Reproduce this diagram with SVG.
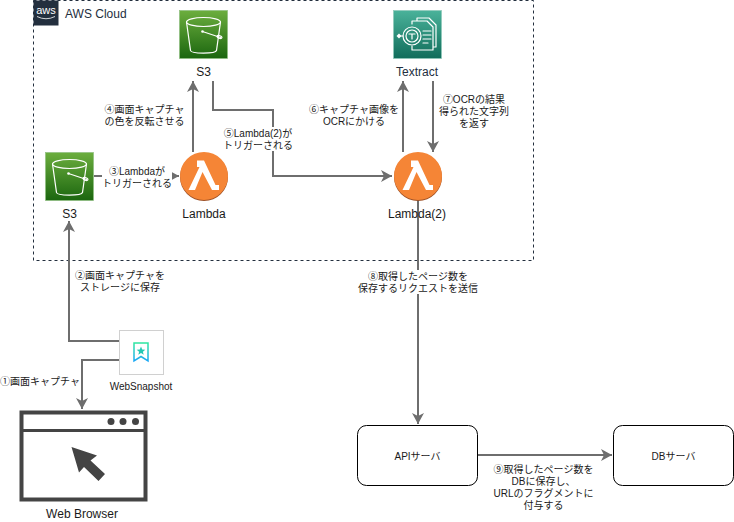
<svg xmlns="http://www.w3.org/2000/svg" width="734" height="522" viewBox="0 0 734 522">
<style>
text{font-family:"Liberation Sans","Noto Sans CJK JP",sans-serif;fill:#1a1a1a}
.e{font-size:10px;text-anchor:middle}
.n{font-size:12px;text-anchor:middle}
.c{fill:none;stroke:#6e6e6e;stroke-width:2}
.g{fill:none;stroke:#fff;stroke-width:1.2;stroke-linejoin:round;stroke-linecap:round}
.bg{fill:#fff}
</style>
<defs>
<marker id="a" markerUnits="userSpaceOnUse" markerWidth="14" markerHeight="14" refX="11" refY="6" orient="auto"><path d="M0 0L11 6L0 12L3 6Z" fill="#6e6e6e"/></marker>
<linearGradient id="gs" x1="0" y1="1" x2="0" y2="0"><stop offset="0" stop-color="#1b660f"/><stop offset="1" stop-color="#6cae3e"/></linearGradient>
<linearGradient id="gt" x1="0" y1="1" x2="0" y2="0"><stop offset="0" stop-color="#116d5b"/><stop offset="1" stop-color="#4ab29a"/></linearGradient>
<linearGradient id="gb" x1="0" y1="0" x2="0" y2="1"><stop offset="0" stop-color="#2fe6a0"/><stop offset="1" stop-color="#1aa7f5"/></linearGradient>
<g id="s3i">
<rect width="48" height="48" fill="url(#gs)" stroke="#8fbf80" stroke-width="0.7"/>
<ellipse cx="24" cy="11.500" rx="17" ry="4.500" class="g"/>
<path d="M7 11.500L11 40C11.500 43.500 36 43.500 37 40L41 11.500" class="g"/>
<path d="M23 21L41 27" class="g"/>
<ellipse cx="40" cy="26.500" rx="2.500" ry="1.300" class="g" transform="rotate(20 40 26.500)"/>
<circle cx="23" cy="21" r="1.300" fill="#fff"/>
</g>
<g id="li">
<circle cx="24" cy="25" r="24" fill="#9d5025"/>
<circle cx="24" cy="24" r="24" fill="#f58536"/>
<path d="M17 8.500H24L35.500 33H39V38H32L22.500 20L15 38H8.500L19.500 15H17Z" fill="#fff"/>
</g>
</defs>
<g id="aws-cloud">
<rect x="33.500" y="0.500" width="500" height="260" fill="none" stroke="#232f3e" stroke-dasharray="3 3"/>
<rect x="33.500" y="0.500" width="25" height="25" fill="#232f3e"/>
<text x="46" y="14" style="font-size:11px;fill:#fff;text-anchor:middle">aws</text>
<path d="M37 16.500Q46 21 55 16.500" fill="none" stroke="#fff" stroke-width="0.8"/>
<text x="65" y="18" style="font-size:12px;fill:#232f3e">AWS Cloud</text>
</g>
<g id="connectors">
<path class="c" d="M94 176H179" marker-end="url(#a)"/>
<path class="c" d="M193 152V81" marker-end="url(#a)"/>
<path class="c" d="M213 81V110H273V176H392" marker-end="url(#a)"/>
<path class="c" d="M403 152V81" marker-end="url(#a)"/>
<path class="c" d="M433 81V152" marker-end="url(#a)"/>
<path class="c" d="M418 200V424" marker-end="url(#a)"/>
<path class="c" d="M478 455H612" marker-end="url(#a)"/>
<path class="c" d="M119 341H69V221" marker-end="url(#a)"/>
<path class="c" d="M119 360H82V409" marker-end="url(#a)"/>
</g>
<g id="s3-top"><use href="#s3i" x="179.500" y="10.500"/><text class="n" x="203.500" y="76">S3</text></g>
<g id="s3-left"><use href="#s3i" x="45.500" y="152.500"/><text class="n" x="69.500" y="218">S3</text></g>
<g id="lambda"><use href="#li" x="180" y="152"/><text class="n" x="204" y="218">Lambda</text></g>
<g id="lambda2"><use href="#li" x="394" y="152"/><text class="n" x="417" y="218">Lambda(2)</text></g>
<g id="textract">
<rect x="393.500" y="10.500" width="48" height="48" fill="url(#gt)" stroke="#8fc9ba" stroke-width="0.7"/>
<path d="M412 24V21H427L433 27V50H412V46M417 21V18H429L436 25V47H433" class="g" stroke-width="1"/>
<circle cx="412" cy="36" r="9" class="g"/><circle cx="412" cy="36" r="6" class="g"/>
<path d="M409 34H415M412 34V39M423 31H431M423 35H431M423 39H431M423 43H428M403 36H399" class="g"/>
<path d="M399 33.500L396.500 36L399 38.500L401.500 36Z" fill="#fff"/>
<text class="n" x="417" y="76" style="fill:#232f3e">Textract</text>
</g>
<g id="websnapshot">
<rect x="119.500" y="330.500" width="44" height="44" fill="#fff" stroke="#d0d0d0"/>
<path d="M134 343H148V361L141 356.500L134 361Z" fill="#fff" stroke="url(#gb)" stroke-width="1.500"/>
<path d="M141 346.500L142.200 349.500L145.300 349.700L142.900 351.700L143.700 354.700L141 353L138.300 354.700L139.100 351.700L136.700 349.700L139.800 349.500Z" fill="#25c8b4"/>
<text class="e" x="141" y="390">WebSnapshot</text>
</g>
<g id="web-browser">
<rect x="21.500" y="412.500" width="124" height="87" fill="#fff" stroke="#444" stroke-width="4"/>
<path d="M21 430.500H146" stroke="#444" stroke-width="3" fill="none"/>
<circle cx="111" cy="421.500" r="3.500" fill="#444"/><circle cx="123" cy="421.500" r="3.500" fill="#444"/><circle cx="135.500" cy="421.500" r="3.500" fill="#444"/>
<path d="M71.500 447L97 455.500L90.500 460.500L105 474L98.500 481L84 467L79 472.500Z" fill="#444"/>
<text x="82" y="518" class="n">Web Browser</text>
</g>
<g id="api-server"><rect x="357.500" y="425.500" width="120" height="60" rx="9" fill="#fff" stroke="#000"/><text class="e" x="417.500" y="460">APIサーバ</text></g>
<g id="db-server"><rect x="613.500" y="425.500" width="120" height="60" rx="9" fill="#fff" stroke="#000"/><text class="e" x="673.500" y="460">DBサーバ</text></g>
<g id="labels">
<rect class="bg" x="102" y="166" width="70" height="22"/>
<text class="e" x="137" y="175">③Lambdaが</text><text class="e" x="137" y="187">トリガーされる</text>
<rect class="bg" x="105" y="104" width="80" height="24"/>
<text class="e" x="144.500" y="113">④画面キャプチャ</text><text class="e" x="144.500" y="125">の色を反転させる</text>
<rect class="bg" x="224" y="127" width="68" height="24"/>
<text class="e" x="258" y="137">⑤Lambda(2)が</text><text class="e" x="258" y="149">トリガーされる</text>
<rect class="bg" x="309" y="104" width="84" height="24"/>
<text class="e" x="354" y="113">⑥キャプチャ画像を</text><text class="e" x="354" y="125">OCRにかける</text>
<text class="e" x="474" y="103">⑦OCRの結果</text><text class="e" x="474" y="115">得られた文字列</text><text class="e" x="474" y="127">を返す</text>
<rect class="bg" x="355" y="270" width="126" height="24"/>
<text class="e" x="418" y="280">⑧取得したページ数を</text><text class="e" x="418" y="292">保存するリクエストを送信</text>
<text class="e" x="120" y="279">②画面キャプチャを</text><text class="e" x="120" y="291">ストレージに保存</text>
<text class="e" x="40" y="385">①画面キャプチャ</text>
<text class="e" x="543.500" y="473">⑨取得したページ数を</text><text class="e" x="543.500" y="485">DBに保存し、</text><text class="e" x="543.500" y="497">URLのフラグメントに</text><text class="e" x="543.500" y="509">付与する</text>
</g>
</svg>
